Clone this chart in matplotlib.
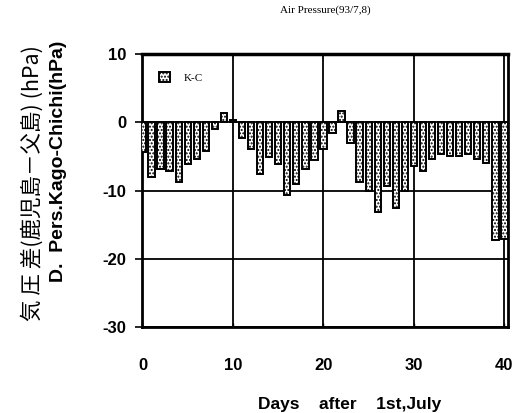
import matplotlib
matplotlib.use("Agg")
import matplotlib.pyplot as plt
import numpy as np

# pressure difference Kagoshima - Chichijima (hPa), days after 1st July
days = list(range(41))
kc = [-4.3, -8.0, -6.8, -7.1, -8.8, -6.1, -5.4, -4.2, -1.0, 1.4,
      0.4, -2.3, -3.9, -7.5, -5.1, -6.1, -10.7, -9.0, -6.8, -5.5,
      -3.9, -1.6, 1.6, -3.0, -8.7, -10.0, -13.2, -9.3, -12.5, -10.0,
      -6.4, -7.1, -5.4, -4.6, -5.0, -5.0, -4.7, -5.4, -5.9, -17.2,
      -17.1]
xticks = [0, 10, 20, 30, 40]
yticks = [-30, -20, -10, 0, 10]

plt.rcParams["hatch.linewidth"] = 1.0
plt.rcParams["axes.unicode_minus"] = False
fig = plt.figure(figsize=(5.21, 4.13), dpi=100)
ax = fig.add_axes([0.2726, 0.208, 0.7025, 0.661])

ax.bar(days, kc, width=0.7, color="white", edgecolor="black",
       linewidth=1.4, hatch=".....", label="K-C", zorder=3)

ax.set_xlim(-0.05, 40.4)
ax.set_ylim(-30, 10)
ax.set_xticks(xticks)
ax.set_yticks(yticks)
ax.grid(True, color="black", linewidth=1.3, zorder=1)
for s in ax.spines.values():
    s.set_linewidth(2.0)
ax.spines["top"].set_linewidth(2.5)

ax.tick_params(axis="y", direction="out", length=5, width=1.2, pad=6)
ax.tick_params(axis="x", direction="in", length=3, width=1.0, pad=22)
for lab in ax.get_xticklabels() + ax.get_yticklabels():
    lab.set_fontfamily("Liberation Sans")
    lab.set_fontweight("bold")
    lab.set_fontsize(12)

ax.set_xlabel("Days    after    1st,July", fontfamily="Liberation Sans",
              fontweight="bold", fontsize=12.5)
ax.xaxis.set_label_coords(0.566, -0.255)
ax.set_title("Air Pressure(93/7,8)", fontfamily="Liberation Serif",
             fontsize=8, pad=30)

fig.text(0.112, 0.61, "D.  Pers.Kago-Chichi(hPa)", rotation=90,
         fontfamily="Liberation Sans", fontweight="bold", fontsize=14,
         ha="center", va="center")
fig.text(0.062, 0.557, "気 圧 差(鹿児島－父島) (hPa)", rotation=90,
         fontfamily=["Noto Sans CJK JP", "DejaVu Sans"], fontsize=15.5,
         ha="center", va="center")

leg = ax.legend(loc="upper left", bbox_to_anchor=(0.02, 0.97),
                frameon=False, handlelength=1.0, handleheight=1.0,
                handletextpad=1.2, prop={"family": "Liberation Serif", "size": 8})

fig.savefig("out.png", dpi=100)
